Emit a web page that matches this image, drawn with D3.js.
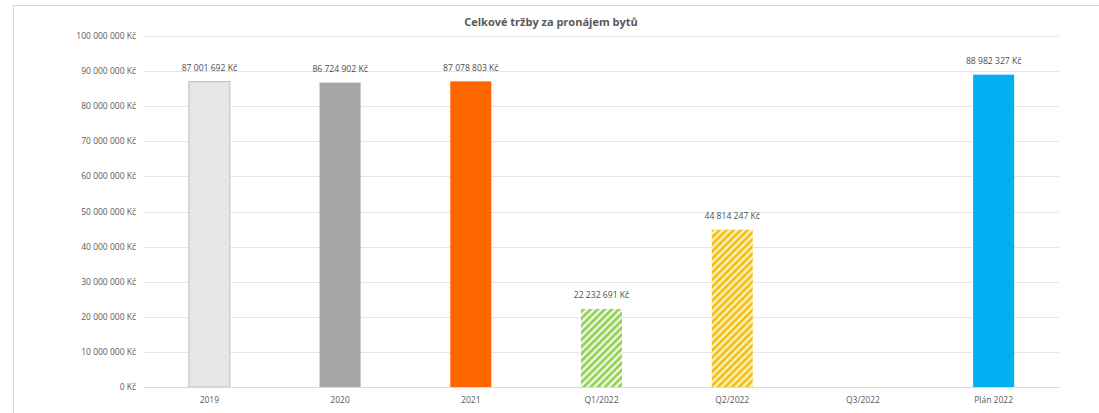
<!DOCTYPE html>
<html><head><meta charset="utf-8">
<script src="https://cdn.jsdelivr.net/npm/d3@7"></script>
<style>body{margin:0;background:#fff}svg{display:block}</style>
</head><body>
<script>
const categories = ["2019","2020","2021","Q1/2022","Q2/2022","Q3/2022","Plán 2022"];
const values = [87001692, 86724902, 87078803, 22232691, 44814247, null, 88982327];
const yTicks = [0,10000000,20000000,30000000,40000000,50000000,60000000,70000000,80000000,90000000,100000000];
const title = "Celkové tržby za pronájem bytů";

const W=1099,H=413;
const svg=d3.select("body").append("svg").attr("width",W).attr("height",H);
const font="'Open Sans', 'Noto Sans', sans-serif";
const defs=svg.append("defs");
function stripe(id,fg,bg){
  const s=5;
  const p=defs.append("pattern").attr("id",id).attr("patternUnits","userSpaceOnUse")
    .attr("width",s).attr("height",s).attr("patternTransform","rotate(45)");
  p.append("rect").attr("width",s).attr("height",s).attr("fill",bg);
  p.append("rect").attr("width",2.7).attr("height",s).attr("fill",fg);
}
stripe("pg","#92d050","#f2f9ea");
stripe("py","#f5bf0f","#f8f2c8");
const fills=["#e6e6e6","#a6a6a6","#ff6600","url(#pg)","url(#py)","#cccccc","#00b0f0"];

// outer border
svg.append("path").attr("d","M13.5,"+H+" V5.5 H"+W).attr("fill","none").attr("stroke","#d9d9d9");

const m={l:144,r:1059,t:36,b:387};
const x=d3.scaleBand().domain(categories).range([m.l,m.r]).paddingInner(0.686).paddingOuter(0.343);
const y=d3.scaleLinear().domain([0,100000000]).range([m.b,m.t]);
const fmt=v=>d3.format(",")(v).replace(/,/g," ")+" Kč";

svg.append("g").selectAll("line").data(yTicks.slice(1)).join("line")
  .attr("x1",m.l).attr("x2",m.r).attr("y1",d=>Math.round(y(d))+0.5).attr("y2",d=>Math.round(y(d))+0.5)
  .attr("stroke","#e6e6e6");
svg.append("g").selectAll("text").data(yTicks).join("text")
  .attr("x",136).attr("y",d=>y(d)+3).attr("text-anchor","end")
  .attr("font-family",font).attr("font-size",8.5).attr("fill","#595959").text(fmt);

const data=categories.map((c,i)=>({c,v:values[i],f:fills[i],i}));
svg.append("g").selectAll("rect").data(data.filter(d=>d.v!=null)).join("rect")
  .attr("x",d=>x(d.c)).attr("width",x.bandwidth())
  .attr("y",d=>y(d.v)).attr("height",d=>y(0)-y(d.v))
  .attr("fill",d=>d.f).attr("stroke",d=>d.i===0?"#bfbfbf":"none");
svg.append("line").attr("x1",m.l).attr("x2",m.r).attr("y1",m.b+0.5).attr("y2",m.b+0.5).attr("stroke","#d9d9d9");

svg.append("g").selectAll("text").data(data.filter(d=>d.v!=null)).join("text")
  .attr("x",d=>x(d.c)+x.bandwidth()/2).attr("y",d=>y(d.v)-10.5).attr("text-anchor","middle")
  .attr("font-family",font).attr("font-size",8.6).attr("fill","#4d4d4d").text(d=>fmt(d.v));

svg.append("g").selectAll("text").data(categories).join("text")
  .attr("x",d=>x(d)+x.bandwidth()/2).attr("y",403).attr("text-anchor","middle")
  .attr("font-family",font).attr("font-size",8.5).attr("fill","#595959").text(d=>d);

svg.append("text").attr("x",551).attr("y",26).attr("text-anchor","middle")
  .attr("font-family",font).attr("font-size",11).attr("font-weight","bold").attr("fill","#595959").text(title);
</script>
</body></html>
